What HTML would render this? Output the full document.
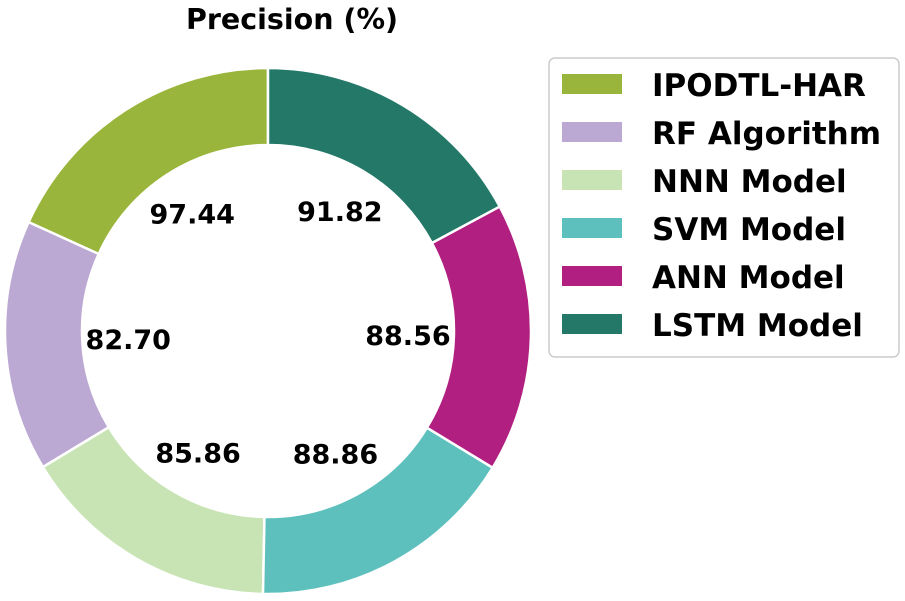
<!DOCTYPE html>
<html><head><meta charset="utf-8"><style>
body{margin:0;background:#fff;}
svg{display:block;font-family:"DejaVu Sans","Liberation Sans",sans-serif;font-weight:bold;}
</style></head><body>
<svg width="905" height="601" viewBox="0 0 905 601">
<text x="292" y="29" text-anchor="middle" font-size="28.5">Precision (%)</text>
<g id="slices"></g>
<g id="labels"></g>
<rect x="549" y="58" width="350" height="299" rx="6" fill="#fff" stroke="#cccccc" stroke-width="1.5"/>
<g id="legend"></g>
</svg>
<script>
const categories=["IPODTL-HAR","RF Algorithm","NNN Model","SVM Model","ANN Model","LSTM Model"];
const values=[97.44,82.70,85.86,88.86,88.56,91.82];
const valueLabels=["97.44","82.70","85.86","88.86","88.56","91.82"];
const colors=["#9ab53c","#bca9d3","#c8e4b4","#5ec0bd","#b11f80","#237868"];
const NS="http://www.w3.org/2000/svg";
const cx=268,cy=331,R=263,r=186,lr=140;
const total=values.reduce((a,b)=>a+b,0);
function pt(rad,deg){const a=deg*Math.PI/180;return [cx+rad*Math.cos(a),cy-rad*Math.sin(a)];}
let start=90;
const gs=document.getElementById('slices'),gl=document.getElementById('labels'),lg=document.getElementById('legend');
values.forEach((v,i)=>{
  const sweep=v/total*360,end=start+sweep,large=sweep>180?1:0;
  const [x1,y1]=pt(R,start),[x2,y2]=pt(R,end),[x3,y3]=pt(r,end),[x4,y4]=pt(r,start);
  const p=document.createElementNS(NS,'path');
  p.setAttribute('d',`M${x1},${y1} A${R},${R} 0 ${large} 0 ${x2},${y2} L${x3},${y3} A${r},${r} 0 ${large} 1 ${x4},${y4} Z`);
  p.setAttribute('fill',colors[i]);p.setAttribute('stroke','#fff');p.setAttribute('stroke-width','2.5');
  
  
  gs.appendChild(p);
  const [lx,ly]=pt(lr,start+sweep/2);
  const t=document.createElementNS(NS,'text');
  t.setAttribute('x',lx);t.setAttribute('y',ly+10);t.setAttribute('text-anchor','middle');t.setAttribute('font-size','27');
  t.textContent=valueLabels[i];
  
  
  gl.appendChild(t);
  const rc=document.createElementNS(NS,'rect');
  rc.setAttribute('x',562);rc.setAttribute('y',74+i*48);rc.setAttribute('width',60);rc.setAttribute('height',20);rc.setAttribute('fill',colors[i]);
  
  
  lg.appendChild(rc);
  const lt=document.createElementNS(NS,'text');
  lt.setAttribute('x',652);lt.setAttribute('y',96+i*48);lt.setAttribute('font-size','31');
  lt.textContent=categories[i];
  
  
  lg.appendChild(lt);
  start=end;
});
</script>
</body></html>
